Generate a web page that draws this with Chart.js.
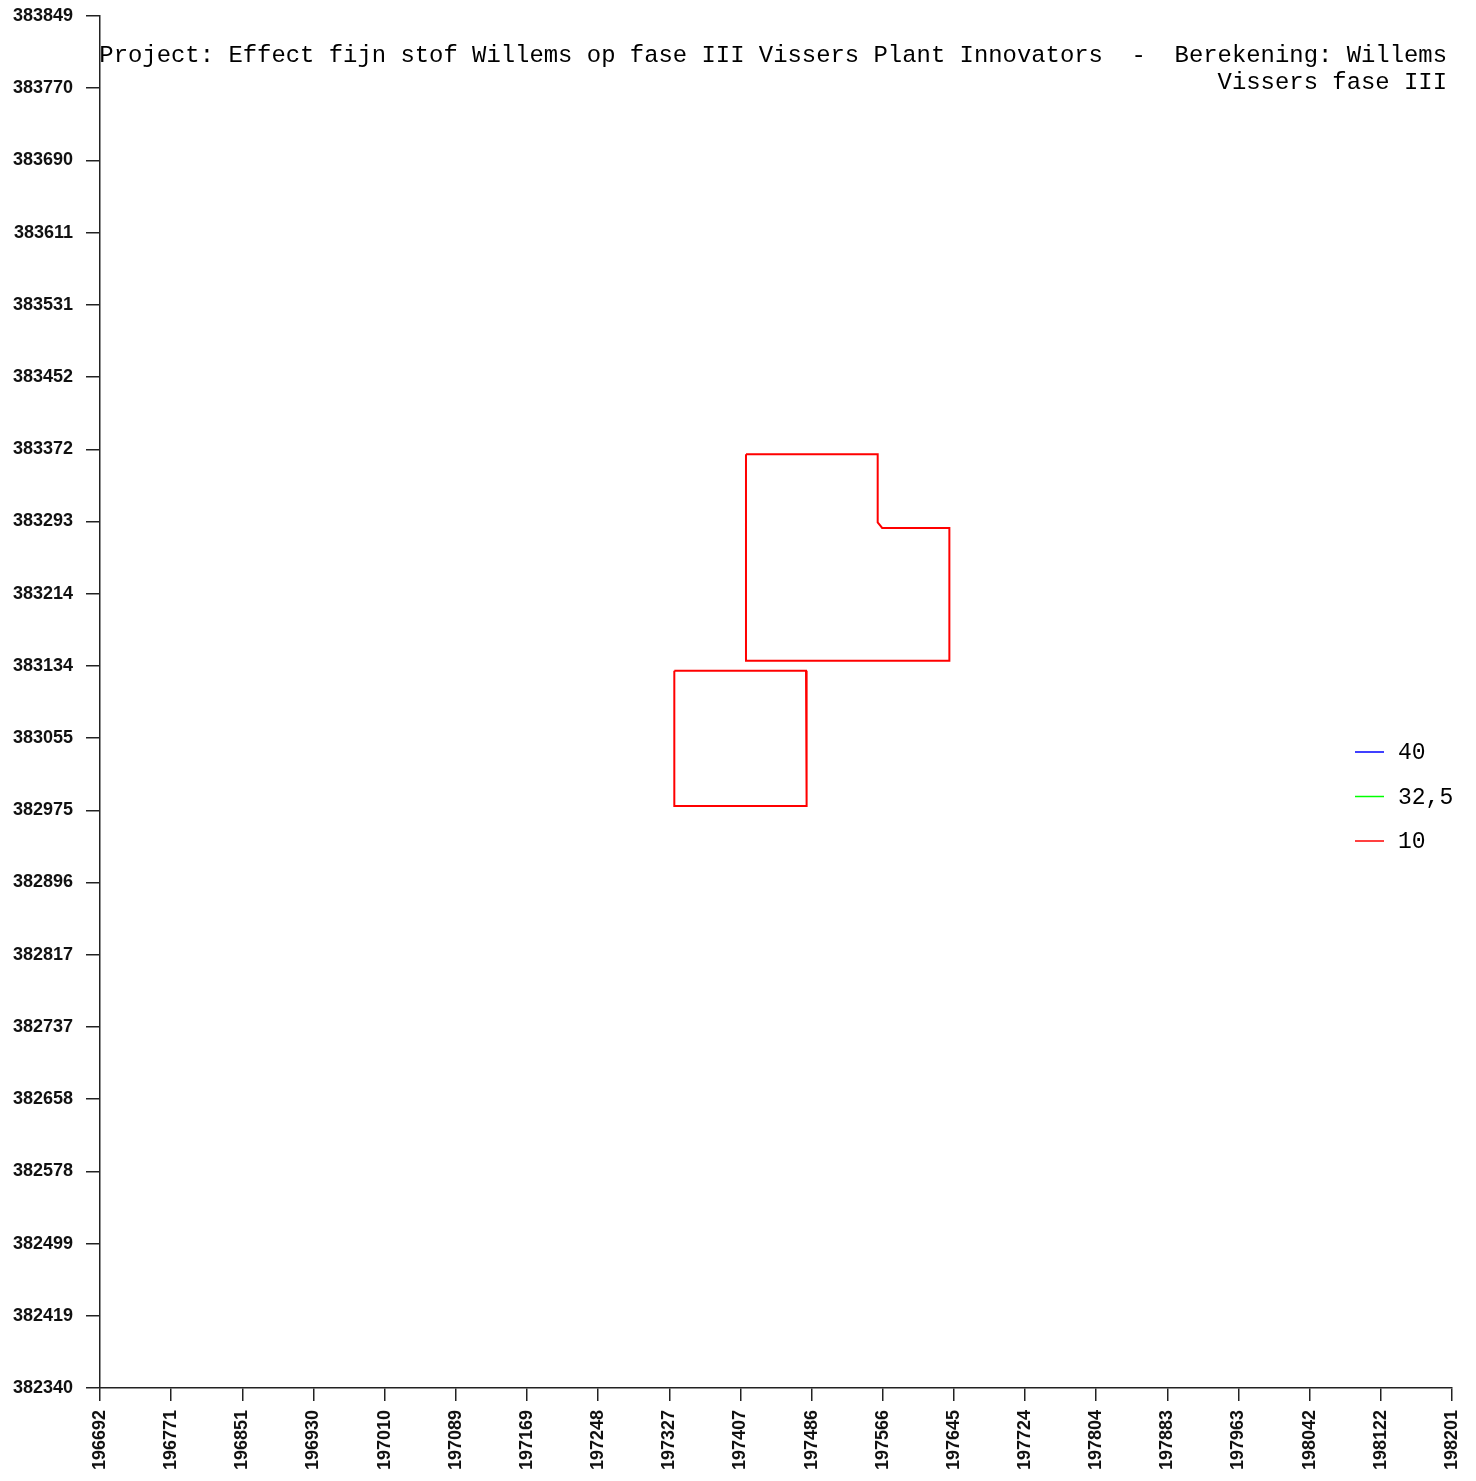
<!DOCTYPE html>
<html>
<head>
<meta charset="utf-8">
<title>Effect fijn stof Willems</title>
<script src="https://cdn.jsdelivr.net/npm/chart.js@4/dist/chart.umd.min.js"></script>
<style>
  html, body { margin: 0; padding: 0; background: #fff; }
  #plot { display: block; }
</style>
</head>
<body>
<canvas id="plot" width="1476" height="1481"></canvas>
<script>
'use strict'

// Data
const titleLines = [
    'Project: Effect fijn stof Willems op fase III Vissers Plant Innovators  -  Berekening: Willems',
    'Vissers fase III'
];
const xTickLabels = [196692, 196771, 196851, 196930, 197010, 197089, 197169, 197248, 197327, 197407,
    197486, 197566, 197645, 197724, 197804, 197883, 197963, 198042, 198122, 198201];
const yTickLabels = [382340, 382419, 382499, 382578, 382658, 382737, 382817, 382896, 382975, 383055,
    383134, 383214, 383293, 383372, 383452, 383531, 383611, 383690, 383770, 383849];

const seriesLabels = ['40', '32,5', '10'];
const seriesColors = ['#0000ff', '#00ff00', '#ff0000'];

// contour 10, two closed blocks
const contour10aX = [197413, 197560, 197560, 197565, 197640, 197640, 197413, 197413];
const contour10aY = [383367, 383367, 383292, 383286, 383286, 383140, 383140, 383367];
const contour10bX = [197333, 197480, 197480, 197481, 197481, 197333, 197333];
const contour10bY = [383129, 383129, 383017, 383017, 382980, 382980, 383129];

const toPoints = (xs, ys) => xs.map((x, i) => ({x: x, y: ys[i]}));

const contour10 = toPoints(contour10aX, contour10aY)
    .concat([{x: null, y: null}])
    .concat(toPoints(contour10bX, contour10bY));

const MONO = '"Liberation Mono", "Courier New", monospace';
const AXIS_FONT = {family: '"Liberation Sans", Arial, sans-serif', size: 18, weight: 'bold'};

const overlay = {
    id: 'overlay',
    afterDraw(chart) {
        const ctx = chart.ctx;
        ctx.save();
        // title, right aligned inside the plot
        ctx.fillStyle = '#000';
        ctx.font = '23.9px ' + MONO;
        ctx.textAlign = 'right';
        ctx.textBaseline = 'alphabetic';
        titleLines.forEach((t, i) => ctx.fillText(t, 1447, 62 + i * 27));

        // legend
        ctx.font = '23px ' + MONO;
        ctx.textAlign = 'left';
        ctx.textBaseline = 'middle';
        chart.data.datasets.forEach((ds, i) => {
            const y = 752 + i * 44.5;
            ctx.strokeStyle = ds.borderColor;
            ctx.lineWidth = 1.5;
            ctx.beginPath();
            ctx.moveTo(1355, y);
            ctx.lineTo(1384, y);
            ctx.stroke();
            ctx.fillStyle = '#000';
            ctx.fillText(ds.label, 1398, y + 1);
        });
        ctx.restore();
    }
};

const evenTicks = (labels) => (scale) => {
    const lo = labels[0], hi = labels[labels.length - 1];
    scale.ticks = labels.map((l, i) => ({value: lo + i * (hi - lo) / (labels.length - 1)}));
};

const noPadding = (s) => {
    s.paddingTop = s.paddingBottom = s.paddingLeft = s.paddingRight = 0;
};

new Chart(document.getElementById('plot'), {
    type: 'scatter',
    data: {
        datasets: seriesLabels.map((label, i) => ({
            label: label,
            data: label === '10' ? contour10 : [],
            borderColor: seriesColors[i],
            backgroundColor: seriesColors[i],
            borderWidth: 2,
            showLine: true,
            spanGaps: false,
            pointRadius: 0,
            tension: 0
        }))
    },
    options: {
        responsive: false,
        animation: false,
        devicePixelRatio: 1,
        layout: {padding: {left: 0, top: 16, right: 24, bottom: 0}},
        plugins: {
            legend: {display: false},
            title: {display: false},
            tooltip: {enabled: false}
        },
        scales: {
            x: {
                type: 'linear',
                min: xTickLabels[0],
                max: xTickLabels[xTickLabels.length - 1],
                afterBuildTicks: evenTicks(xTickLabels),
                afterFit: (s) => { s.height = 93; noPadding(s); },
                border: {display: true, color: '#222', width: 1.5},
                grid: {drawOnChartArea: false, color: '#222', tickLength: 13, lineWidth: 1.5},
                ticks: {
                    autoSkip: false,
                    minRotation: 90,
                    maxRotation: 90,
                    padding: 9,
                    color: '#111',
                    font: AXIS_FONT,
                    callback: (v, i) => String(xTickLabels[i])
                }
            },
            y: {
                type: 'linear',
                min: yTickLabels[0],
                max: yTickLabels[yTickLabels.length - 1],
                afterBuildTicks: evenTicks(yTickLabels),
                afterFit: (s) => { s.width = 100; noPadding(s); },
                border: {display: true, color: '#222', width: 1.5},
                grid: {drawOnChartArea: false, color: '#222', tickLength: 14, lineWidth: 1.5},
                ticks: {
                    autoSkip: false,
                    padding: 13,
                    color: '#111',
                    font: AXIS_FONT,
                    callback: (v, i) => String(yTickLabels[i])
                }
            }
        }
    },
    plugins: [overlay]
});
</script>
</body>
</html>
